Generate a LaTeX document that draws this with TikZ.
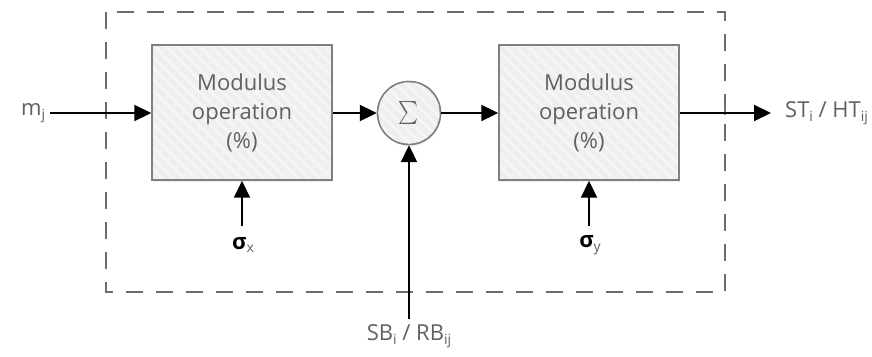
\documentclass[tikz,border=0pt]{standalone}
\usepackage{fontspec}
\usepackage{graphicx}
\setmainfont{Open Sans}
\usetikzlibrary{arrows.meta,patterns.meta,shadows}
\definecolor{txt}{HTML}{606060}
\definecolor{edge}{HTML}{808080}
\definecolor{boxfill}{HTML}{EFEFEF}
\definecolor{stripe}{HTML}{F6F6F6}
\tikzset{
  x=1pt, y=-1pt,
  hatch/.style={postaction={pattern={Lines[angle=-45,distance=8pt,line width=2.5pt]}, pattern color=stripe},
    postaction={draw=edge, line width=1.4pt}},
  opbox/.style={draw=edge, line width=1.4pt, fill=boxfill, hatch,
    minimum width=180pt, minimum height=135pt, inner sep=0pt,
    drop shadow={shadow xshift=1pt, shadow yshift=-2pt, opacity=0.12},
    align=center, font=\fontsize{22}{29}\selectfont, text=txt},
  sumnode/.style={circle, draw=edge, line width=1.4pt, fill=boxfill, hatch,
    minimum size=63pt, inner sep=0pt,
    drop shadow={shadow xshift=1pt, shadow yshift=-2pt, opacity=0.12},
    text=txt},
  flow/.style={line width=2pt, -{Triangle[length=17pt,width=16pt]}},
  lbl/.style={font=\fontsize{22}{26}\selectfont, text=txt, inner sep=0pt},
  sig/.style={font=\fontsize{22}{26}\selectfont, inner sep=0pt},
  frame/.style={draw=edge!85!black, line width=1.5pt, dash pattern=on 17pt off 13pt}
}
\newcommand{\sbs}[1]{\raisebox{-0.3ex}{\fontsize{14}{15}\selectfont #1}}
\begin{document}
\begin{tikzpicture}
\useasboundingbox (0,0) rectangle (872,356);
% dashed enclosure
\draw[frame] (106,12) rectangle (725,292);
% blocks
\node[opbox] (modx) at (242,112.5) {Modulus\\operation\\(\%)};
\node[opbox] (mody) at (589,112.5) {Modulus\\operation\\(\%)};
\node[sumnode] (sum) at (409,113) {\scalebox{1.9}[2.3]{$\sum$}};
% labels
\node[lbl, anchor=west] (mj) at (21,113) {m\sbs{j}};
\node[lbl, anchor=west] (st) at (785,113) {ST\sbs{i} / HT\sbs{ij}};
\node[lbl] (sb) at (409,336) {SB\sbs{i} / RB\sbs{ij}};
\node[sig] (sx) at (243,245) {\textbf{σ}\textcolor{txt}{\sbs{x}}};
\node[sig] (sy) at (590,245) {\textbf{σ}\textcolor{txt}{\sbs{y}}};
% free ends
\coordinate (mjend) at (50,113);
\coordinate (stend) at (771,113);
\coordinate (sxend) at (242,226);
\coordinate (syend) at (589,226);
\coordinate (sbend) at (409,319);
% connectors
\draw[flow] (mjend) -- (modx.west |- mjend);
\draw[flow] (modx.east |- sum.west) -- (sum.west);
\draw[flow] (sum.east) -- (mody.west |- sum.east);
\draw[flow] (mody.east |- stend) -- (stend);
\draw[flow] (sxend) -- (modx.south);
\draw[flow] (syend) -- (mody.south);
\draw[flow] (sbend) -- (sum.south);
\fill (725,113) circle (1.8pt);
\end{tikzpicture}
\end{document}
